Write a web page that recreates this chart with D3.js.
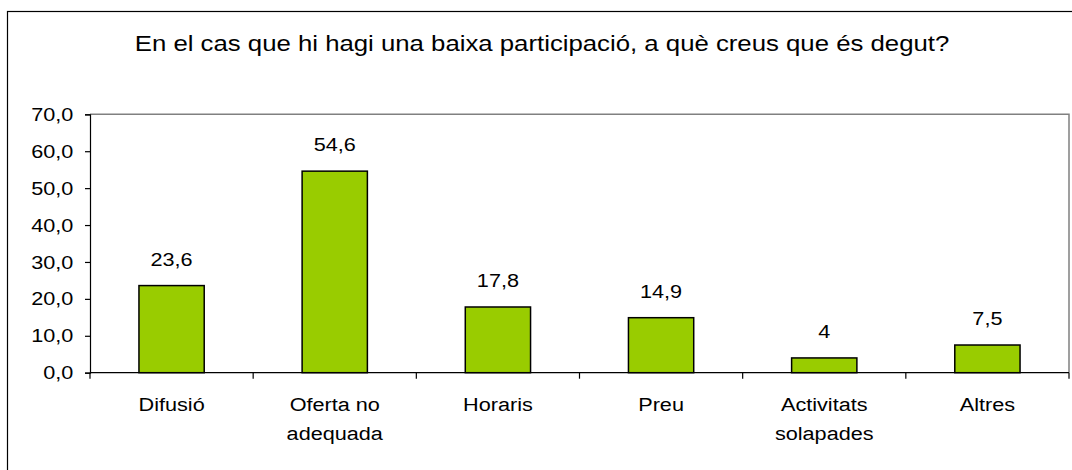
<!DOCTYPE html>
<html><head><meta charset="utf-8">
<script src="https://cdn.jsdelivr.net/npm/d3@7"></script>
<style>
html,body{margin:0;padding:0;background:#fff;}
svg{display:block;font-family:"Liberation Sans",Arial,sans-serif;}
</style></head>
<body>
<svg id="c" width="1072" height="470"></svg>
<script>
const title = "En el cas que hi hagi una baixa participació, a què creus que és degut?";
const categories = ["Difusió", "Oferta no|adequada", "Horaris", "Preu", "Activitats|solapades", "Altres"];
const values = [23.6, 54.6, 17.8, 14.9, 4, 7.5];
const valueLabels = ["23,6", "54,6", "17,8", "14,9", "4", "7,5"];
const yTicks = [0, 10, 20, 30, 40, 50, 60, 70];

const svg = d3.select("#c");
const m = {left: 90, right: 1069, top: 114.3, bottom: 372.7};
const fs = 19;
const sx = 1.14;

function stext(parent, x, y, str, size, anchor) {
  const g = parent.append("g").attr("transform", `translate(${x},${y}) scale(${sx},1)`);
  return g.append("text").attr("x", 0).attr("y", 0).attr("text-anchor", anchor || "middle")
    .attr("font-size", size).attr("fill", "#000").text(str);
}

// outer frame
svg.append("rect").attr("x", 7.5).attr("y", 11.5).attr("width", 1080).attr("height", 480)
  .attr("fill", "none").attr("stroke", "#000").attr("stroke-width", 1.2);

stext(svg, 542, 50.5, title, 22.6);

const x = d3.scaleBand().domain(d3.range(categories.length)).range([m.left, m.right]).paddingInner(0).paddingOuter(0);
const y = d3.scaleLinear().domain([0, 70]).range([m.bottom, m.top]);

// plot area border (top & right)
svg.append("path").attr("d", `M${m.left},${m.top}H${m.right}V${m.bottom}`)
  .attr("fill", "none").attr("stroke", "#808080").attr("stroke-width", 1.5);

const bw = x.bandwidth() * 0.4;
svg.selectAll("rect.bar").data(values).enter().append("rect").attr("class", "bar")
  .attr("x", (d, i) => x(i) + x.bandwidth() / 2 - bw / 2)
  .attr("y", d => y(d))
  .attr("width", bw)
  .attr("height", d => y(0) - y(d))
  .attr("fill", "#99CC00").attr("stroke", "#000").attr("stroke-width", 1.5);

values.forEach((d, i) => {
  stext(svg, x(i) + x.bandwidth() / 2, y(d) - 20, valueLabels[i], fs);
});

// y axis
const yAxis = d3.axisLeft(y).tickValues(yTicks).tickSize(5).tickPadding(9.6)
  .tickFormat(d => d3.format(".1f")(d).replace(".", ","));
const gy = svg.append("g").attr("transform", `translate(${m.left},0)`).call(yAxis);
gy.select(".domain").attr("stroke", "#000").attr("stroke-width", 1.2);
gy.selectAll(".tick line").attr("stroke", "#000").attr("stroke-width", 1.2);
gy.selectAll(".tick text").attr("font-size", fs).attr("fill", "#000")
  .attr("font-family", "Liberation Sans, Arial, sans-serif")
  .attr("transform", `scale(${sx},1)`);

// x axis: ticks at band boundaries
const boundaries = d3.range(categories.length + 1).map(i => m.left + i * x.step());
svg.append("line").attr("x1", m.left).attr("x2", m.right).attr("y1", m.bottom).attr("y2", m.bottom)
  .attr("stroke", "#000").attr("stroke-width", 1.2);
svg.selectAll("line.xt").data(boundaries).enter().append("line").attr("class", "xt")
  .attr("x1", d => d).attr("x2", d => d).attr("y1", m.bottom).attr("y2", m.bottom + 6)
  .attr("stroke", "#000").attr("stroke-width", 1.2);

categories.forEach((c, i) => {
  c.split("|").forEach((p, k) => {
    stext(svg, x(i) + x.bandwidth() / 2, 411 + k * 29, p, fs);
  });
});
</script>
</body></html>
